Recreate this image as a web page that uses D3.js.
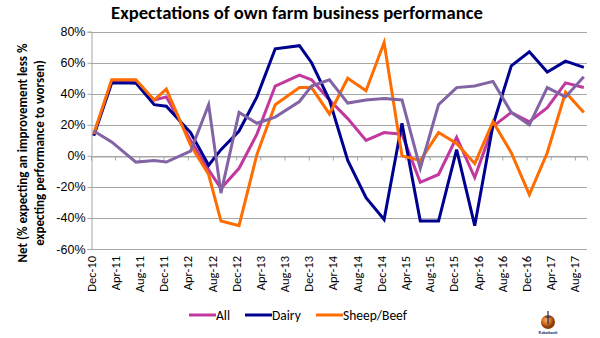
<!DOCTYPE html>
<html>
<head>
<meta charset="utf-8">
<script src="https://cdn.jsdelivr.net/npm/d3@7"></script>
<style>
  body { margin: 0; background: #fff; }
  svg { font-family: Carlito, Calibri, Lato, sans-serif; }
</style>
</head>
<body>
<script>
// survey dates (mid month)
var surveyDates = ["2010-12-15","2011-03-15","2011-07-15","2011-10-15","2011-12-15","2012-04-15","2012-07-15",
    "2012-09-15","2012-12-15","2013-03-15","2013-06-15","2013-10-15","2013-12-15","2014-03-15","2014-06-15",
    "2014-09-15","2014-12-15","2015-03-15","2015-06-15","2015-09-15","2015-12-15","2016-03-15","2016-06-15",
    "2016-09-15","2016-12-15","2017-03-15","2017-06-15","2017-09-15"];

var allValues   = [14, 48, 47, 36, 38, 10, -9, -21, -8, 14, 45, 52, 49, 36, 24, 10, 15, 14, -17, -12, 12, -14, 19, 28, 22, 31, 47, 44];
var dairyValues = [13, 47, 47, 33, 32, 15, -6, 4, 16, 38, 69, 71, 60, 36, -3, -27, -41, 21, -42, -42, 4, -45, 20, 58, 67, 54, 61, 57];
var sheepValues = [14, 49, 49, 36, 43, 7, -12, -42, -45, 1, 33, 44, 44, 27, 50, 42, 73, 0, -3, 15, 8, -5, 22, 2, -25, 2, 41, 28];
var otherValues = [16, 9, -4, -3, -4, 3, 33, -24, 28, 21, 25, 35, 45, 49, 34, 36, 37, 36, -8, 33, 44, 45, 48, 28, 20, 44, 38, 51];

var tickLabels = ["Dec-10","Apr-11","Aug-11","Dec-11","Apr-12","Aug-12","Dec-12","Apr-13","Aug-13","Dec-13",
    "Apr-14","Aug-14","Dec-14","Apr-15","Aug-15","Dec-15","Apr-16","Aug-16","Dec-16","Apr-17","Aug-17"];
var yTicks = [-60, -40, -20, 0, 20, 40, 60, 80];

var parseDay = d3.timeParse("%Y-%m-%d");
var parseMonth = d3.timeParse("%b-%y");

var series = [
    { name: "All", values: allValues, colour: "#c1389f", legend: true },
    { name: "Dairy", values: dairyValues, colour: "#000090", legend: true },
    { name: "Sheep/Beef", values: sheepValues, colour: "#ff6d00", legend: true },
    { name: "Other", values: otherValues, colour: "#8264a4", legend: false }
];

var width = 600, height = 338;
var svg = d3.select("body").append("svg").attr("width", width).attr("height", height);

var x = d3.scaleTime()
    .domain([parseMonth("Dec-10"), d3.timeMonth.offset(parseMonth("Aug-17"), 2)])
    .range([91, 587]);
var y = d3.scaleLinear().domain([-60, 80]).range([249, 31.7]);

// gridlines
svg.append("g").selectAll("line").data(yTicks).enter().append("line")
    .attr("x1", 91).attr("x2", 587)
    .attr("y1", function(d) { return Math.round(y(d)) + 0.5; })
    .attr("y2", function(d) { return Math.round(y(d)) + 0.5; })
    .attr("stroke", "#a6a6a6").attr("stroke-width", 1);

// y axis
var yAxis = svg.append("g").attr("transform", "translate(91.5,0)")
    .call(d3.axisLeft(y).tickValues(yTicks).tickSize(4).tickFormat(function(d) { return d + "%"; }));
yAxis.select(".domain").attr("stroke", "#a6a6a6");
yAxis.selectAll(".tick line").attr("stroke", "#a6a6a6");
yAxis.selectAll("text").attr("font-size", 12.5).attr("fill", "#000").attr("x", -6);

// x axis at zero with tick marks
var tickDates = tickLabels.map(function(t) { return parseMonth(t); });
var xAxis = svg.append("g").attr("transform", "translate(0," + (Math.round(y(0)) + 0.5) + ")")
    .call(d3.axisBottom(x).tickValues(tickDates).tickSize(4).tickFormat(""));
xAxis.select(".domain").attr("stroke", "#a6a6a6");
xAxis.selectAll(".tick line").attr("stroke", "#a6a6a6");

// x labels at bottom
svg.append("g").selectAll("text").data(tickDates).enter().append("text")
    .attr("transform", function(d) { return "translate(" + (x(d) + 4.5) + ",256)rotate(-90)"; })
    .attr("text-anchor", "end")
    .attr("font-size", 12.5)
    .text(d3.timeFormat("%b-%y"));

// lines
var line = d3.line()
    .x(function(d, i) { return x(parseDay(surveyDates[i])); })
    .y(function(d) { return y(d); });

svg.append("g").selectAll("path").data(series).enter().append("path")
    .attr("d", function(s) { return line(s.values); })
    .attr("fill", "none")
    .attr("stroke", function(s) { return s.colour; })
    .attr("stroke-width", 3)
    .attr("stroke-linejoin", "miter");

// title
var title = svg.append("text").attr("x", 297).attr("y", 19)
    .attr("text-anchor", "middle").attr("font-weight", "bold").attr("font-size", 18)
    .text("Expectations of own farm business performance");
var tw = title.node().getComputedTextLength();
title.attr("font-size", 18 * 372 / tw);

// y axis label
var yl = svg.append("text").attr("transform", "translate(0,153)rotate(-90)")
    .attr("text-anchor", "middle").attr("font-weight", "bold").attr("font-size", 13);
yl.append("tspan").attr("x", 0).attr("y", 27).text("Net (% expecting an improvement less %");
yl.append("tspan").attr("x", 0).attr("y", 44).text("expecting performance to worsen)");

// legend
var legendItems = series.filter(function(s) { return s.legend; });
var legendX = [189, 245, 316];
var legend = svg.append("g").selectAll("g").data(legendItems).enter().append("g")
    .attr("transform", function(d, i) { return "translate(" + legendX[i] + ",315)"; });
legend.append("line").attr("x1", 0).attr("x2", 27).attr("y1", 0).attr("y2", 0)
    .attr("stroke", function(d) { return d.colour; }).attr("stroke-width", 3);
legend.append("text").attr("x", 27).attr("y", 4.5).attr("font-size", 13.5)
    .text(function(d) { return d.name; });

// Rabobank logo
var defs = svg.append("defs");
var grad = defs.append("radialGradient").attr("id", "ball").attr("cx", "40%").attr("cy", "35%");
grad.append("stop").attr("offset", "0").attr("stop-color", "#f6b26b");
grad.append("stop").attr("offset", "0.6").attr("stop-color", "#d9701e");
grad.append("stop").attr("offset", "1").attr("stop-color", "#8a3d0a");
var logo = svg.append("g").attr("transform", "translate(548,322)");
logo.append("circle").attr("r", 7).attr("fill", "url(#ball)");
logo.append("path").attr("d", "M0,-11 L0,2 M-3,-5 L3,-5").attr("stroke", "#1a2a6c").attr("stroke-width", 1.2);
logo.append("text").attr("y", 12).attr("text-anchor", "middle").attr("font-size", 4.5)
    .attr("font-weight", "bold").attr("fill", "#1a2a6c").text("Rabobank");
</script>
</body>
</html>
